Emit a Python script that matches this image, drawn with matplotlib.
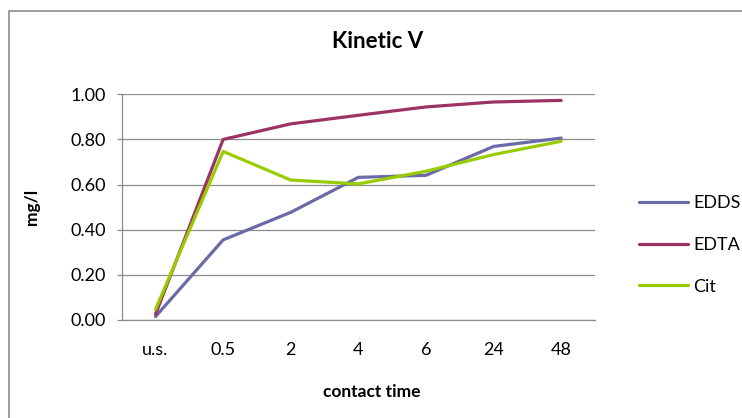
import matplotlib
matplotlib.use('Agg')
import matplotlib.pyplot as plt
from matplotlib.patches import Rectangle

# Data.
categories = ['u.s.', '0.5', '2', '4', '6', '24', '48']
edds = [0.015, 0.355, 0.477, 0.632, 0.641, 0.769, 0.806]
edta = [0.025, 0.800, 0.869, 0.907, 0.944, 0.966, 0.973]
cit = [0.047, 0.747, 0.620, 0.603, 0.659, 0.733, 0.792]
y_ticks = [0.0, 0.2, 0.4, 0.6, 0.8, 1.0]

plt.rcParams['font.family'] = ['Lato', 'DejaVu Sans']

W, H = 742, 418
fig = plt.figure(figsize=(W / 100, H / 100), dpi=100)
fig.patch.set_facecolor('white')

# Axes placed in pixel terms of the reference.
left, right, top, bottom = 121.7, 595, 94.3, 320
ax = fig.add_axes([left / W, 1 - bottom / H, (right - left) / W, (bottom - top) / H])

x = list(range(len(categories)))
h1, = ax.plot(x, edds, color='#6a6aa6', lw=2.3, label='EDDS', solid_capstyle='round')
h2, = ax.plot(x, edta, color='#9b3462', lw=2.3, label='EDTA', solid_capstyle='round')
h3, = ax.plot(x, cit, color='#99cc00', lw=2.3, label='Cit', solid_capstyle='round')

ax.set_xlim(-0.5, len(categories) - 0.5)
ax.set_ylim(0, 1.0)
ax.set_xticks(x)
ax.set_xticklabels(categories)
ax.set_yticks(y_ticks)
ax.set_yticklabels(['%.2f' % v for v in y_ticks])

ax.grid(axis='y', color='#8c8c8c', lw=0.9)
ax.set_axisbelow(True)
for s in ['top', 'right']:
    ax.spines[s].set_visible(False)
for s in ['left', 'bottom']:
    ax.spines[s].set_color('#8c8c8c')
    ax.spines[s].set_linewidth(0.9)

ax.tick_params(axis='y', length=3.6, color='#8c8c8c', width=0.9, pad=8, labelsize=13)
ax.tick_params(axis='x', length=0, pad=16, labelsize=13)

ax.set_ylabel('mg/l', fontsize=12.5, fontweight='bold')
ax.yaxis.set_label_coords((40 - left) / (right - left), 0.5)
fig.text(378 / W, 1 - 41 / H, 'Kinetic V', ha='center', va='center',
         fontsize=16, fontweight='bold')
fig.text(372 / W, 1 - 392 / H, 'contact time', ha='center', va='center',
         fontsize=12.5, fontweight='bold')

# Legend at the right edge.
fig.legend([h1, h2, h3], ['EDDS', 'EDTA', 'Cit'], loc='upper left',
           bbox_to_anchor=(632 / W, 1 - 188 / H), frameon=False, fontsize=13,
           handlelength=2.7, handletextpad=0.3, labelspacing=1.42, borderaxespad=0)

# Chart border.
fig.patches.append(Rectangle((9 / W, -0.1), 1.2, (H - 11) / H + 0.1,
                             transform=fig.transFigure, fill=False,
                             ec='#8c8c8c', lw=1.2))

fig.savefig('out.png', dpi=100)
